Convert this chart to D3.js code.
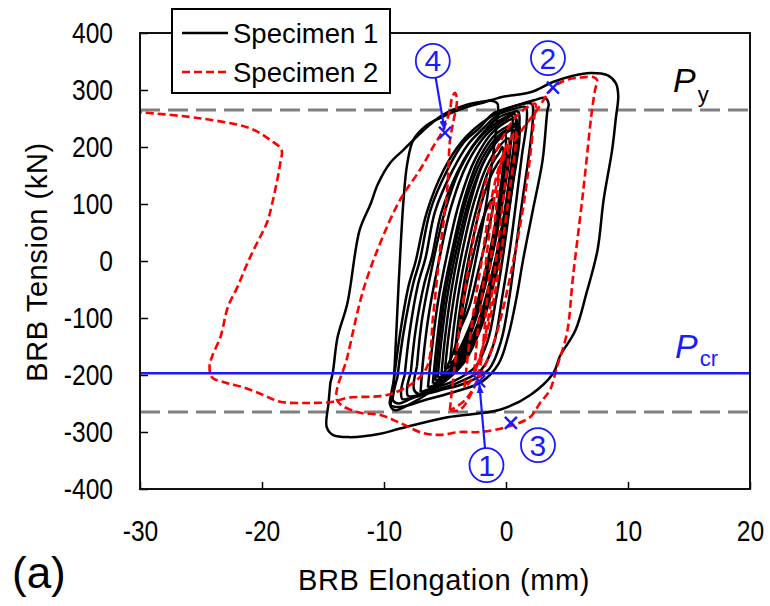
<!DOCTYPE html>
<html><head><meta charset="utf-8">
<script src="https://cdn.jsdelivr.net/npm/d3@7"></script>
<style>body{margin:0;background:#fff}svg{display:block}</style>
</head><body>
<svg id="c" width="770" height="606"></svg>
<script>
// ---- data (elongation mm, tension kN) ----
const xTicks = [-30,-20,-10,0,10,20];
const yTicks = [-400,-300,-200,-100,0,100,200,300,400];
const Py = 265;
const Pcr = -197;
const seriesNames = ["Specimen 1","Specimen 2"];

// Specimen 1 loops
const spec1Loops = [
 [[-3.8,-120],[-3.4,-60],[-2.8,0],[-2.1,60],[-1.4,100],[-1.0,110],[-1.1,90],[-1.6,40],[-2.3,-20],[-3.0,-80],[-3.6,-112],[-3.8,-120]],
 [[-4.2,-165],[-3.9,-105],[-3.4,-35],[-2.7,40],[-1.9,110],[-1.0,160],[-0.2,185],[0.1,190],[0.1,170],[-0.3,110],[-0.9,35],[-1.7,-40],[-2.6,-105],[-3.5,-145],[-4.0,-160],[-4.2,-165]],
 [[-4.6,-180],[-4.3,-120],[-3.8,-45],[-3.1,30],[-2.3,100],[-1.4,160],[-0.5,192],[-0.3,200],[-0.2,180],[-0.5,120],[-1.1,40],[-1.9,-35],[-2.8,-105],[-3.7,-150],[-4.3,-175],[-4.6,-180]],
 [[-5.0,-190],[-4.7,-130],[-4.2,-55],[-3.5,25],[-2.6,105],[-1.6,165],[-0.6,200],[0.2,215],[0.3,195],[-0.1,130],[-0.8,50],[-1.6,-30],[-2.6,-105],[-3.7,-160],[-4.6,-185],[-5.0,-190]],
 [[-5.3,-200],[-5.0,-135],[-4.5,-55],[-3.8,25],[-2.9,105],[-1.9,170],[-0.8,210],[-0.1,225],[0.0,200],[-0.3,130],[-1.0,45],[-1.8,-35],[-2.8,-115],[-3.9,-170],[-4.8,-195],[-5.3,-200]],
 [[-5.6,-205],[-5.3,-140],[-4.8,-60],[-4.0,25],[-3.0,110],[-1.8,175],[-0.5,215],[0.6,230],[0.7,205],[0.3,135],[-0.4,50],[-1.3,-35],[-2.4,-115],[-3.7,-172],[-4.9,-198],[-5.6,-205]],
 [[-5.8,-210],[-5.5,-145],[-5.0,-60],[-4.2,25],[-3.2,112],[-2.0,178],[-0.6,220],[0.9,236],[1.0,212],[0.5,138],[-0.2,52],[-1.1,-36],[-2.2,-118],[-3.6,-176],[-5.0,-203],[-5.8,-210]],
 [[-6.0,-215],[-5.7,-150],[-5.2,-65],[-4.4,20],[-3.4,110],[-2.2,180],[-0.7,225],[1.0,240],[1.1,215],[0.6,140],[-0.1,50],[-1.0,-40],[-2.1,-120],[-3.5,-180],[-5.0,-208],[-6.0,-215]],
 [[-6.4,-222],[-6.1,-160],[-5.6,-75],[-4.8,15],[-3.8,105],[-2.5,180],[-1.0,228],[0.8,250],[0.9,225],[0.4,150],[-0.3,60],[-1.2,-30],[-2.3,-115],[-3.7,-180],[-5.3,-212],[-6.4,-222]],
 [[-7.0,-230],[-6.8,-175],[-6.3,-90],[-5.5,0],[-4.5,95],[-3.2,170],[-1.6,222],[0.2,252],[0.5,255],[0.5,230],[0.1,155],[-0.6,65],[-1.5,-25],[-2.6,-110],[-4.0,-180],[-5.7,-218],[-7.0,-230]],
 [[-7.3,-185],[-6.9,-105],[-6.1,-15],[-5.1,80],[-3.8,160],[-2.2,215],[-0.4,248],[0.7,258],[0.8,235],[0.4,165],[-0.2,75],[-1.0,-15],[-2.0,-100],[-3.4,-175],[-5.6,-220],[-7.2,-233],[-7.55,-225],[-7.3,-185]],
 [[-7.8,-195],[-7.4,-120],[-6.7,-40],[-6.1,5],[-5.3,85],[-4.0,155],[-2.8,200],[-1.6,232],[-0.6,252],[0.4,260],[1.0,262],[1.1,240],[0.8,180],[0.3,95],[-0.2,15],[-0.8,-65],[-1.5,-140],[-2.5,-185],[-4.2,-210],[-6.2,-225],[-7.5,-237],[-8.05,-236],[-8.1,-222],[-7.8,-195]],
 [[-8.3,-200],[-7.9,-125],[-7.2,-40],[-6.6,5],[-5.8,88],[-4.4,158],[-3.1,205],[-1.8,234],[-0.7,256],[0.5,266],[1.6,270],[1.7,246],[1.3,185],[0.8,98],[0.3,18],[-0.3,-62],[-1.0,-145],[-2.0,-190],[-3.8,-212],[-6.0,-228],[-7.9,-241],[-8.5,-242],[-8.6,-228],[-8.3,-200]],
 [[-8.9,-204],[-8.4,-126],[-7.6,-39],[-7.05,2],[-6.2,89],[-4.8,160],[-3.5,207],[-2.1,235],[-1.1,258],[0.1,268],[1.1,274],[2.1,276],[2.2,252],[1.9,190],[1.3,100],[0.8,20],[0.3,-60],[-0.4,-140],[-1.4,-190],[-3.3,-214],[-5.6,-228],[-7.6,-240],[-8.8,-250],[-9.25,-245],[-9.2,-230],[-8.9,-204]],
 [[-9.2,-210],[-8.7,-130],[-8.0,-45],[-7.4,0],[-6.5,85],[-5.1,160],[-3.6,210],[-2.0,242],[-0.5,262],[1.0,274],[2.3,282],[3.2,286],[3.5,275],[3.4,265],[3.0,177],[2.2,89],[1.4,2],[0.9,-60],[0.2,-130],[-0.6,-180],[-2.0,-212],[-4.0,-228],[-6.5,-243],[-8.7,-256],[-9.5,-252],[-9.45,-238],[-9.2,-210]],
 [[-9.2,-215],[-9.0,-130],[-8.8,-40],[-8.6,40],[-8.4,107],[-8.1,170],[-7.6,212],[-6.5,238],[-5.0,255],[-3.5,268],[-2.0,277],[-1.2,281],[-0.7,276],[-0.7,255],[-1.1,180],[-1.7,90],[-2.5,0],[-3.4,-90],[-4.5,-170],[-6.0,-225],[-7.8,-250],[-9.1,-262],[-9.45,-255],[-9.35,-240],[-9.2,-215]],
 [[-14.4,-214],[-14.2,-196],[-13.8,-133],[-13.0,-74],[-12.0,54],[-11.1,100],[-10.5,135],[-9.5,172],[-8.4,195],[-7.6,212],[-6.3,238],[-5.2,256],[-3.2,274],[-1.3,282],[-0.25,288],[2.0,296],[3.85,314],[5.5,325],[6.9,330],[8.3,326],[9.0,312],[9.2,290],[9.0,250],[8.7,195],[8.0,107],[7.5,19],[6.6,-56],[5.7,-121],[4.4,-168],[3.9,-196],[2.0,-235],[-0.5,-261],[-4.8,-274],[-8.7,-294],[-10.3,-303],[-12.8,-309],[-14.2,-305],[-14.7,-291],[-14.55,-250],[-14.4,-214]]
];

// Specimen 2 loops
const spec2Loops = [
 [[-2.6,-195],[-2.3,-120],[-1.8,-30],[-1.3,60],[-0.8,130],[-0.3,180],[0.1,200],[0.2,188],[-0.1,130],[-0.5,60],[-1.0,-30],[-1.6,-120],[-2.3,-180],[-2.6,-195]],
 [[-3.4,-222],[-3.1,-160],[-2.6,-80],[-2.0,0],[-1.4,85],[-0.7,155],[0.0,200],[0.6,222],[0.8,228],[0.8,205],[0.4,140],[-0.1,60],[-0.7,-30],[-1.4,-110],[-2.2,-175],[-2.9,-210],[-3.4,-222]],
 [[-4.6,-262],[-4.4,-220],[-4.0,-150],[-3.5,-70],[-2.9,10],[-2.2,90],[-1.3,165],[-0.2,220],[0.9,255],[1.9,272],[2.4,276],[2.3,250],[1.9,170],[1.3,80],[0.6,0],[-0.2,-80],[-1.1,-150],[-2.2,-205],[-3.4,-245],[-4.6,-262]],
 [[-4.6,-262],[-3.77,-261],[-2.70,-226],[-2.13,-186],[-1.56,-68],[-1.31,-11],[-0.90,72],[-0.25,177],[1.15,225],[2.54,265],[3.85,304],[5.0,318],[6.2,322],[7.13,323],[7.46,318],[7.3,300],[7.05,265],[6.31,119],[5.49,-28],[5.0,-126],[4.18,-186],[3.61,-226],[2.79,-249],[1.97,-274],[0.08,-291],[-2.13,-300],[-3.77,-300],[-5.41,-305],[-6.8,-302],[-8.69,-284],[-10.3,-270],[-12.2,-265],[-13.85,-244],[-13.0,-168],[-11.7,-51],[-10.3,32],[-8.69,107],[-7.05,160],[-5.98,200],[-5.16,230],[-4.59,265],[-4.43,286],[-4.18,295],[-4.02,282],[-4.34,242],[-4.59,212],[-4.84,119],[-5.41,19],[-5.98,-98],[-6.48,-186],[-7.62,-214],[-9.26,-232],[-10.3,-237],[-13.0,-240],[-14.2,-247],[-16.1,-249],[-18.5,-247],[-19.9,-235],[-21.6,-221],[-22.9,-214],[-24.1,-204],[-24.3,-186],[-24.1,-168],[-23.4,-133],[-22.8,-81],[-22.0,-45],[-21.2,-4],[-20.4,32],[-19.6,67],[-19.1,107],[-18.5,172],[-18.4,195],[-19.3,212],[-21.0,233],[-25.3,251],[-30,261]]
];

// annotated events: marker point and label position (data units)
const eventLabels = ["1","2","3","4"];
const eventPoints = [[-2.2,-211],[3.85,304],[0.4,-284],[-5.0,225]];
const labelPoints = [[-1.6,-358],[3.44,356],[2.62,-323],[-6.0,351]];
const eventArrow = [true,false,false,true];

// ---- drawing ----
const svg = d3.select("#c");
const L=140,R=750,T=33,B=489;
const x = d3.scaleLinear().domain([-30,20]).range([L,R]);
const y = d3.scaleLinear().domain([-400,400]).range([B,T]);
const FONT = "'Liberation Sans', Arial, sans-serif";
const BLUE = "#1a1aff";

svg.append("defs").append("clipPath").attr("id","clip")
  .append("rect").attr("x",L).attr("y",T).attr("width",R-L).attr("height",B-T);
const m = svg.append("defs").append("marker").attr("id","arr")
  .attr("viewBox","0 0 10 10").attr("refX",10).attr("refY",5)
  .attr("markerWidth",9).attr("markerHeight",9).attr("markerUnits","userSpaceOnUse").attr("orient","auto");
m.append("path").attr("d","M0,1 L10,5 L0,9 Z").attr("fill",BLUE);

const plot = svg.append("g").attr("clip-path","url(#clip)");

// reference lines
[Py,-Py].forEach(v=>{
  plot.append("line").attr("x1",L).attr("x2",R).attr("y1",y(v)).attr("y2",y(v))
    .attr("stroke","#808080").attr("stroke-width",3).attr("stroke-dasharray","20,8");
});

const line = d3.line().x(d=>x(d[0])).y(d=>y(d[1])).curve(d3.curveCatmullRom.alpha(0.5));
plot.selectAll("path.s1").data(spec1Loops).enter().append("path").attr("class","s1")
  .attr("d",line).attr("fill","none").attr("stroke","#000").attr("stroke-width",2.5)
  .attr("stroke-linejoin","round");
plot.selectAll("path.s2").data(spec2Loops).enter().append("path").attr("class","s2")
  .attr("d",line).attr("fill","none").attr("stroke","#ff0000").attr("stroke-width",2.6)
  .attr("stroke-dasharray","8,4");

plot.append("line").attr("x1",L).attr("x2",R).attr("y1",y(Pcr)).attr("y2",y(Pcr))
  .attr("stroke",BLUE).attr("stroke-width",2.5);

// axes
const fmt = d => String(d);
const xa = svg.append("g").attr("transform",`translate(0,${B})`)
  .call(d3.axisBottom(x).tickValues(xTicks).tickSize(-7).tickPadding(31).tickFormat(fmt));
const ya = svg.append("g").attr("transform",`translate(${L},0)`)
  .call(d3.axisLeft(y).tickValues(yTicks).tickSize(-8).tickPadding(27).tickFormat(fmt));
[xa,ya].forEach(a=>{
  a.select(".domain").remove();
  a.selectAll(".tick line").attr("stroke","#000").attr("stroke-width",1.5);
  a.selectAll(".tick text").attr("font-family",FONT).attr("font-size",30).attr("fill","#000")
    .attr("transform","scale(0.82,1)");
});
ya.selectAll(".tick text").attr("x",-27/0.82);
svg.append("rect").attr("x",L).attr("y",T).attr("width",R-L).attr("height",B-T)
  .attr("fill","none").attr("stroke","#111").attr("stroke-width",2);

// Py / Pcr labels
const py = svg.append("text").attr("x",673).attr("y",92).attr("font-family",FONT).attr("fill","#000");
py.append("tspan").attr("font-size",34).attr("font-style","italic").text("P");
py.append("tspan").attr("font-size",22).attr("dx",2).attr("dy",10).text("y");
const pc = svg.append("text").attr("x",675).attr("y",358).attr("font-family",FONT).attr("fill",BLUE);
pc.append("tspan").attr("font-size",34).attr("font-style","italic").text("P");
pc.append("tspan").attr("font-size",22).attr("dx",2).attr("dy",8).text("cr");

// events
eventPoints.forEach((p,i)=>{
  const cx=x(p[0]), cy=y(p[1]);
  const g=svg.append("g").attr("stroke",BLUE).attr("stroke-width",2.4);
  g.append("line").attr("x1",cx-6).attr("x2",cx+6).attr("y1",cy-6).attr("y2",cy+6);
  g.append("line").attr("x1",cx-6).attr("x2",cx+6).attr("y1",cy+6).attr("y2",cy-6);
  const lx=x(labelPoints[i][0]), ly=y(labelPoints[i][1]);
  svg.append("circle").attr("cx",lx).attr("cy",ly).attr("r",17)
    .attr("fill","none").attr("stroke",BLUE).attr("stroke-width",1.8);
  svg.append("text").attr("x",lx).attr("y",ly+10.5).attr("text-anchor","middle")
    .attr("font-family",FONT).attr("font-size",30).attr("fill",BLUE).text(eventLabels[i]);
  if(eventArrow[i]){
    const dx=cx-lx, dy=cy-ly, d=Math.hypot(dx,dy);
    svg.append("line").attr("x1",lx+dx/d*17).attr("y1",ly+dy/d*17)
      .attr("x2",cx-dx/d*3).attr("y2",cy-dy/d*3)
      .attr("stroke",BLUE).attr("stroke-width",2.2).attr("marker-end","url(#arr)");
  }
});

// legend
const lg = svg.append("g");
lg.append("rect").attr("x",172).attr("y",9).attr("width",218).attr("height",84)
  .attr("fill","#fff").attr("stroke","#000").attr("stroke-width",2);
lg.append("line").attr("x1",182).attr("x2",228).attr("y1",33).attr("y2",33)
  .attr("stroke","#000").attr("stroke-width",2.5);
lg.append("line").attr("x1",182).attr("x2",228).attr("y1",72).attr("y2",72)
  .attr("stroke","#ff0000").attr("stroke-width",2.6).attr("stroke-dasharray","8,4");
lg.append("text").attr("x",233).attr("y",43).attr("font-family",FONT).attr("font-size",27.5).text(seriesNames[0]);
lg.append("text").attr("x",233).attr("y",82).attr("font-family",FONT).attr("font-size",27.5).text(seriesNames[1]);

// titles
svg.append("text").attr("x",444).attr("y",590).attr("text-anchor","middle")
  .attr("font-family",FONT).attr("font-size",29).attr("letter-spacing",0.6).text("BRB Elongation (mm)");
svg.append("text").attr("transform","translate(47,262) rotate(-90)").attr("text-anchor","middle")
  .attr("font-family",FONT).attr("font-size",29).attr("letter-spacing",0.6).text("BRB Tension (kN)");
svg.append("text").attr("x",12).attr("y",588).attr("font-family",FONT).attr("font-size",44).text("(a)");
</script>
</body></html>
